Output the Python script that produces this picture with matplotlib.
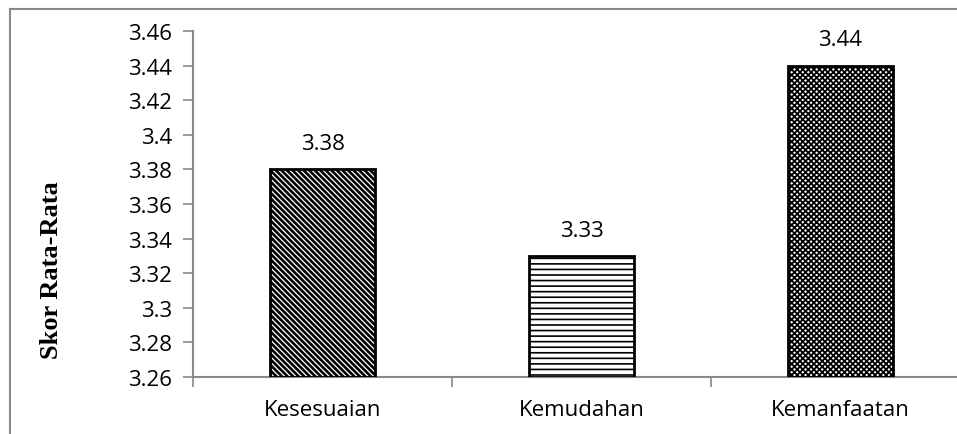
import matplotlib
matplotlib.use("Agg")
import matplotlib.pyplot as plt
from matplotlib.lines import Line2D

categories = ["Kesesuaian", "Kemudahan", "Kemanfaatan"]
scores = [3.38, 3.33, 3.44]
yticks = [3.26, 3.28, 3.30, 3.32, 3.34, 3.36, 3.38, 3.40, 3.42, 3.44, 3.46]
ytick_labels = ["3.26", "3.28", "3.3", "3.32", "3.34", "3.36", "3.38", "3.4", "3.42", "3.44", "3.46"]
hatches = ["\\\\\\\\\\\\", "---", "xxxxxx"]
hatch_widths = [1.9, 1.2, 1.3]

W, H, DPI = 957, 435, 100
fig = plt.figure(figsize=(W / DPI, H / DPI), dpi=DPI)
plt.rcParams["hatch.linewidth"] = 1.3

grey = "#898989"
label_font = ["Open Sans", "DejaVu Sans"]
fs = 16

# axes area, wider than the canvas on the right
x0, x1 = 193, 970
y0, y1 = 378, 32
ax = fig.add_axes([x0 / W, 1 - y0 / H, (x1 - x0) / W, (y0 - y1) / H])

xs = list(range(len(categories)))
bars = ax.bar(xs, [s - yticks[0] for s in scores], bottom=yticks[0], width=0.405,
              color="white", edgecolor="black", linewidth=2.0, zorder=3)
for b, h, hw in zip(bars, hatches, hatch_widths):
    b.set_hatch(h)
    if hasattr(b, "set_hatch_linewidth"):
        b.set_hatch_linewidth(hw)

for x, s in zip(xs, scores):
    ax.annotate(f"{s:.2f}", (x, s), xytext=(0, 11), textcoords="offset points",
                ha="center", va="bottom", fontsize=fs, family=label_font, color="black")

ax.set_xlim(-0.5, len(categories) - 0.5)
ax.set_ylim(yticks[0], yticks[-1])
ax.set_yticks(yticks)
ax.set_yticklabels(ytick_labels, family=label_font, fontsize=fs)
ax.set_xticks([x - 0.5 for x in xs] + [len(xs) - 0.5])
ax.set_xticklabels([])
ax.set_xticks(xs, minor=True)
ax.set_xticklabels(categories, minor=True, family=label_font, fontsize=fs)
ax.tick_params(axis="x", which="minor", length=0, pad=16)
ax.tick_params(axis="x", which="major", length=7, width=1.2, color=grey)
ax.tick_params(axis="y", length=7, width=1.2, color=grey, pad=8)

for side in ("top", "right"):
    ax.spines[side].set_visible(False)
for side in ("left", "bottom"):
    ax.spines[side].set_color(grey)
    ax.spines[side].set_linewidth(1.5)

fig.text(52 / W, 1 - 270 / H, "Skor Rata-Rata", rotation=90, ha="center", va="center",
         family=["Liberation Serif", "DejaVu Serif"], fontweight="bold", fontsize=19)

# outer frame
fig.add_artist(Line2D([10 / W, 10 / W], [0, 1 - 10 / H], color=grey, lw=1.5))
fig.add_artist(Line2D([10 / W, 1], [1 - 10 / H, 1 - 10 / H], color=grey, lw=1.5))

fig.savefig("out.png", dpi=DPI)
